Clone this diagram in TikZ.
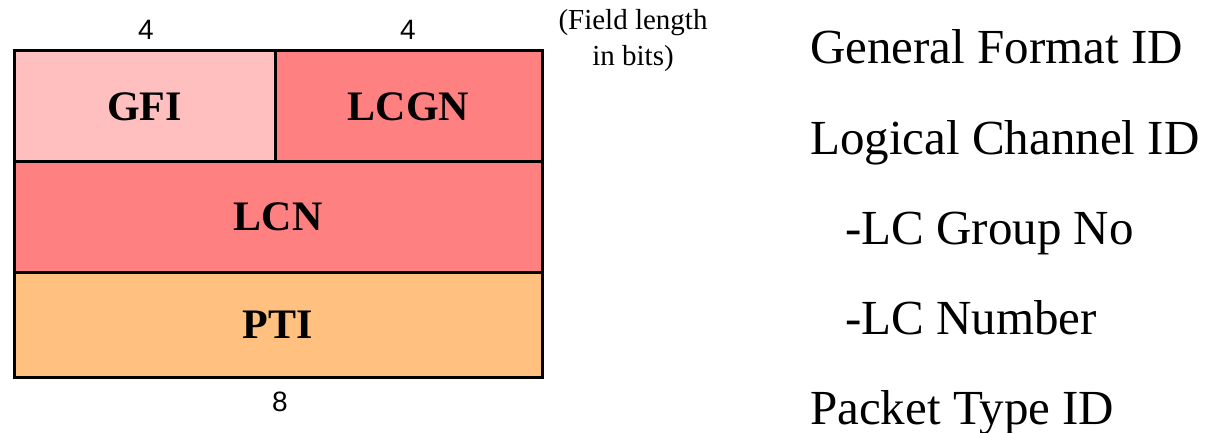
\documentclass[tikz,border=0pt]{standalone}
\usepackage{fontspec}
\setmainfont{Liberation Serif}
\newfontfamily\numfont{Liberation Sans}
\begin{document}
\begin{tikzpicture}[x=1pt,y=-1pt,
  field/.style={draw=black,line width=3pt,inner sep=0pt,outer sep=0pt,
    font=\fontsize{42}{46}\selectfont\bfseries},
  bitlen/.style={font=\numfont\fontsize{28}{32}\selectfont},
  legend/.style={anchor=base west,inner sep=0pt,font=\fontsize{49}{54}\selectfont}]
\definecolor{gfipink}{HTML}{FFBFBF}
\definecolor{lcred}{HTML}{FF8080}
\definecolor{ptiorange}{HTML}{FFC080}
\useasboundingbox (0,0) rectangle (1205,433);

% header fields of the packet
\node[field,fill=gfipink,minimum width=261pt,minimum height=111pt] (gfi) at (144.5,106.5) {GFI};
\node[field,fill=lcred,minimum width=267pt,minimum height=111pt] (lcgn) at (408.5,106.5) {LCGN};
\node[field,fill=lcred,minimum width=528pt,minimum height=110pt] (lcn) at (278,217) {LCN};
\node[field,fill=ptiorange,minimum width=528pt,minimum height=105pt] (pti) at (278,324.5) {PTI};

% field lengths
\node[bitlen] (len1) at (146,30) {4};
\node[bitlen] (len2) at (408,30) {4};
\node[bitlen] (len3) at (280,402) {8};
\node[align=center,font=\fontsize{29}{36}\selectfont] (unit) at (633,41) {(Field length\\in bits)};

% meaning of each field
\node[legend] (t1) at (810,64) {General Format ID};
\node[legend] (t2) at (810,154) {Logical Channel ID};
\node[legend] (t3) at (845,244) {-LC Group No};
\node[legend] (t4) at (845,334) {-LC Number};
\node[legend] (t5) at (810,424) {Packet Type ID};
\end{tikzpicture}
\end{document}
